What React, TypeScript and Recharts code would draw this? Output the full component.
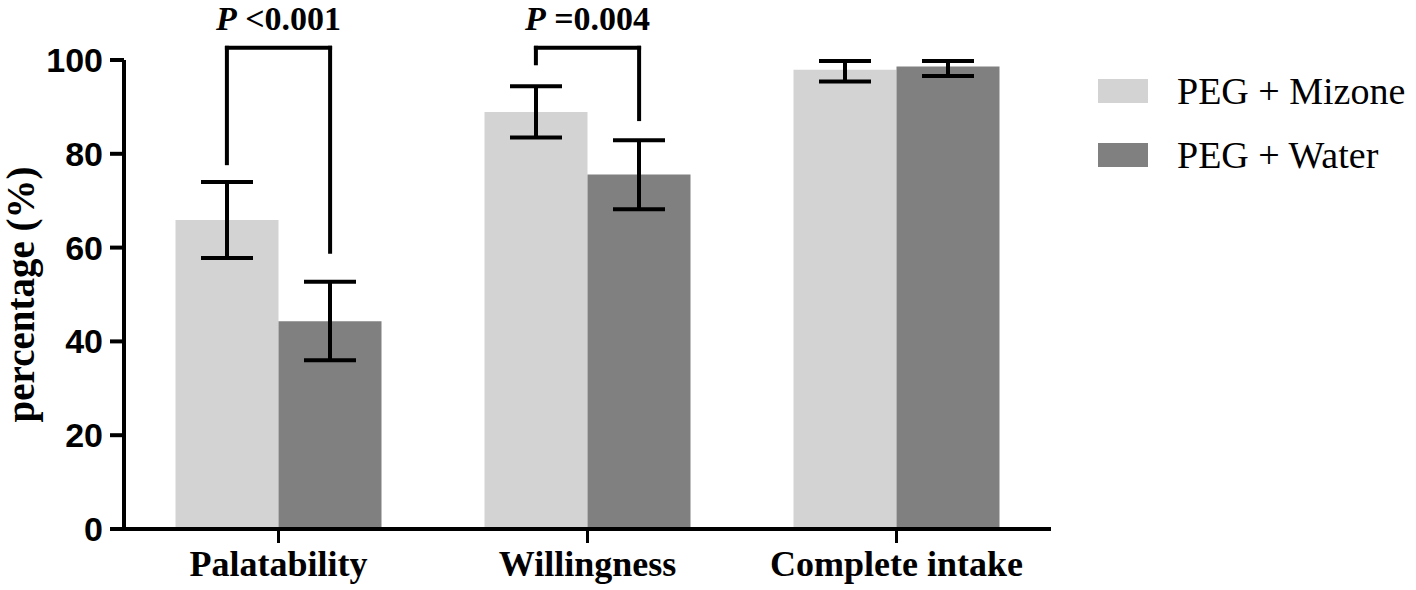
import React from 'react';
import { BarChart, Bar, XAxis, YAxis, ErrorBar, ReferenceLine, ReferenceDot, Legend, Label } from 'recharts';

const categories = ['Palatability', 'Willingness', 'Complete intake'];
const mizoneMean = [65.9, 88.9, 97.9];
const mizoneErr = [[8.1, 8.1], [5.4, 5.5], [2.5, 1.9]];
const waterMean = [44.3, 75.6, 98.6];
const waterErr = [[8.3, 8.4], [7.4, 7.3], [2.0, 1.2]];

const yTicks = [0, 20, 40, 60, 80, 100];

// significance brackets, x in category units on a hidden numeric axis (0..3)
const brackets = [
  { x1: 0.333, x2: 0.667, top: 102.6, left: 78.0, right: 59.1, text: '<0.001' },
  { x1: 1.333, x2: 1.667, top: 102.6, left: 99.3, right: 87.4, text: '=0.004' },
];
const pLabelY = 106.5;

const data = categories.map((name, i) => ({
  name,
  slot: i + 0.5,
  mizone: mizoneMean[i],
  mizoneErr: mizoneErr[i],
  water: waterMean[i],
  waterErr: waterErr[i],
}));

const serif = '"Liberation Serif", "Times New Roman", serif';
const sans = '"Liberation Sans", Arial, sans-serif';

const series = [
  { key: 'mizone', name: 'PEG + Mizone', color: '#d3d3d3' },
  { key: 'water', name: 'PEG + Water', color: '#808080' },
];

function LegendBox() {
  return (
    <div>
      {series.map((s) => (
        <div key={s.key} style={{ display: 'flex', alignItems: 'center', height: 64 }}>
          <div style={{ width: 50, height: 24, background: s.color, marginRight: 29 }} />
          <span style={{ fontFamily: serif, fontSize: 38, color: '#000', lineHeight: 1 }}>{s.name}</span>
        </div>
      ))}
    </div>
  );
}

export default function App() {
  return (
    <div style={{ position: 'absolute', left: 0, top: 0, background: '#fff' }}>
      <BarChart
        width={1416}
        height={590}
        data={data}
        margin={{ top: 60, right: 365, bottom: 0, left: 0 }}
        barCategoryGap="16.667%"
        barGap={0}
      >
        <XAxis
          dataKey="name"
          height={61}
          axisLine={{ stroke: '#000', strokeWidth: 4 }}
          tickLine={{ stroke: '#000', strokeWidth: 3 }}
          tickSize={14}
          tickMargin={7}
          tick={{ fill: '#000', fontSize: 36, fontWeight: 700, fontFamily: serif }}
        />
        <XAxis xAxisId="n" dataKey="slot" type="number" domain={[0, 3]} allowDataOverflow hide />
        <YAxis
          width={124}
          domain={[0, 100]}
          ticks={yTicks}
          interval={0}
          axisLine={{ stroke: '#000', strokeWidth: 4 }}
          tickLine={{ stroke: '#000', strokeWidth: 4 }}
          tickSize={14}
          tickMargin={7}
          tick={{ fill: '#000', fontSize: 34, fontWeight: 700, fontFamily: sans }}
          label={
            <Label
              content={(p: any) => {
                const vb = p.viewBox || { x: 0, y: 60, height: 469 };
                const x = vb.x + 34;
                const y = vb.y + vb.height / 2;
                return (
                  <text
                    x={x}
                    y={y}
                    transform={`rotate(-90 ${x} ${y})`}
                    textAnchor="middle"
                    fontFamily={serif}
                    fontWeight={700}
                    fontSize={39}
                    fill="#000"
                  >
                    percentage (%)
                  </text>
                );
              }}
            />
          }
        />
        <Legend
          layout="horizontal"
          verticalAlign="middle"
          align="center"
          wrapperStyle={{ position: 'absolute', left: 1098, top: 59, width: 318 }}
          content={() => <LegendBox />}
        />
        {series.map((s) => (
          <Bar key={s.key} dataKey={s.key} name={s.name} fill={s.color} isAnimationActive={false}>
            <ErrorBar dataKey={`${s.key}Err`} width={26} stroke="#000" strokeWidth={4} direction="y" />
          </Bar>
        ))}
        {brackets.map((b, i) => (
          <ReferenceLine
            key={`h${i}`}
            xAxisId="n"
            ifOverflow="visible"
            segment={[{ x: b.x1, y: b.top }, { x: b.x2, y: b.top }]}
            stroke="#000"
            strokeWidth={4}
            strokeLinecap="square"
          />
        ))}
        {brackets.map((b, i) => (
          <ReferenceLine
            key={`l${i}`}
            xAxisId="n"
            ifOverflow="visible"
            segment={[{ x: b.x1, y: b.top }, { x: b.x1, y: b.left }]}
            stroke="#000"
            strokeWidth={4}
            strokeLinecap="square"
          />
        ))}
        {brackets.map((b, i) => (
          <ReferenceLine
            key={`r${i}`}
            xAxisId="n"
            ifOverflow="visible"
            segment={[{ x: b.x2, y: b.top }, { x: b.x2, y: b.right }]}
            stroke="#000"
            strokeWidth={4}
            strokeLinecap="square"
          />
        ))}
        {brackets.map((b, i) => (
          <ReferenceDot
            key={`p${i}`}
            xAxisId="n"
            x={(b.x1 + b.x2) / 2}
            y={pLabelY}
            ifOverflow="visible"
            shape={(p: any) => (
              <text
                x={p.cx}
                y={p.cy}
                textAnchor="middle"
                fontFamily={serif}
                fontWeight={700}
                fontSize={34}
                fill="#000"
              >
                <tspan fontStyle="italic">P</tspan>
                <tspan> {b.text}</tspan>
              </text>
            )}
          />
        ))}
      </BarChart>
    </div>
  );
}
